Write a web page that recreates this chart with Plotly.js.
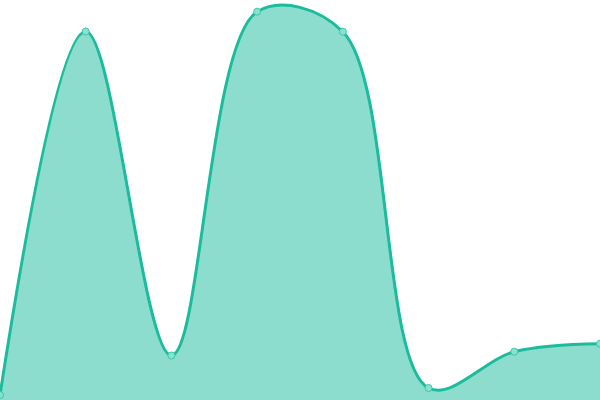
<!DOCTYPE html>
<html>
<head>
<meta charset="utf-8">
<script src="https://cdn.plot.ly/plotly-3.0.1.min.js"></script>
<style>html,body{margin:0;padding:0;background:#fff;}#chart{width:600px;height:400px;}</style>
</head>
<body>
<div id="chart"></div>
<script>
var xValues = [0, 1, 2, 3, 4, 5, 6, 7];
var yValues = [5, 368.5, 44.5, 388.3, 368.3, 12, 48.3, 56.3];

var trace = {
  x: xValues,
  y: yValues,
  type: 'scatter',
  mode: 'lines+markers',
  fill: 'tozeroy',
  fillcolor: 'rgba(26,188,156,0.5)',
  line: {shape: 'spline', smoothing: 1, color: '#1abc9c', width: 3},
  marker: {size: 7, color: 'rgba(140,224,207,1)', line: {color: '#3cc7a9', width: 1}},
  cliponaxis: false,
  hoverinfo: 'x+y'
};

var layout = {
  width: 600,
  height: 400,
  margin: {l: 0, r: 0, t: 0, b: 0, pad: 0},
  paper_bgcolor: '#ffffff',
  plot_bgcolor: '#ffffff',
  showlegend: false,
  xaxis: {range: [0, 7], visible: false, fixedrange: true},
  yaxis: {range: [0, 400], visible: false, fixedrange: true}
};

Plotly.newPlot('chart', [trace], layout, {displayModeBar: false, staticPlot: true});
</script>
</body>
</html>
